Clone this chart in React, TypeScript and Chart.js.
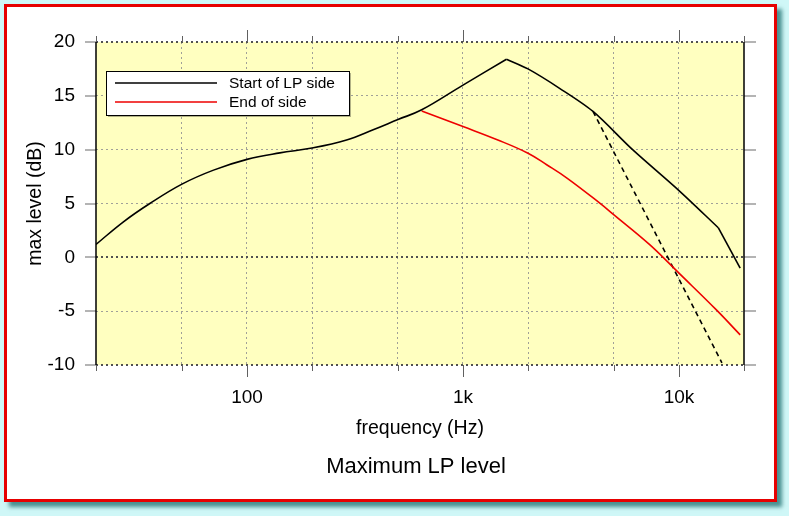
import React, { useEffect, useRef } from 'react';
import { Chart, registerables } from 'chart.js';

Chart.register(...registerables);

const FONT = '"Liberation Sans", Arial, Helvetica, sans-serif';

// ---- axes ----
const X_GRID = [20, 50, 100, 200, 500, 1000, 2000, 5000, 10000, 20000];
const X_DECADES = [100, 1000, 10000];
const X_LABELS: Record<string, string> = { '100': '100', '1000': '1k', '10000': '10k' };
const Y_TICKS = [-10, -5, 0, 5, 10, 15, 20];
const Y_DARK = [-10, 0, 20];

// ---- data ----
// Start of LP side: rising part up to the peak
const startRiseFreq = [20, 26.8, 35.5, 50, 70, 100, 142, 200, 289, 384, 500, 644, 1000, 1590];
const startRiseLevel = [1.2, 3.3, 5.0, 6.8, 8.1, 9.1, 9.7, 10.15, 10.9, 11.85, 12.8, 13.7, 16.0, 18.4];
// Start of LP side: falling part after the peak
const startFallFreq = [1590, 2000, 2800, 4000, 6100, 10000, 15200];
const startFallLevel = [18.4, 17.5, 15.7, 13.55, 10.0, 6.2, 2.75];
// Start of LP side: last steep stretch
const startTailFreq = [15200, 19200];
const startTailLevel = [2.75, -1.0];

const endFreq = [644, 1000, 1450, 2000, 2440, 3030, 4300, 5000, 7340, 10000, 14900, 19200];
const endLevel = [13.6, 12.15, 10.9, 9.67, 8.6, 7.36, 5.03, 3.95, 1.16, -1.47, -4.88, -7.2];

const dashFreq = [4000, 15800];
const dashLevel = [13.55, -9.8];

const LEGEND_LABELS = ['Start of LP side', 'End of side'];
const LEGEND_COLORS = ['#000000', '#ee0000'];

const TITLE = 'Maximum LP level';

const PLOT_BG = '#ffffc0';
const GRID = '#a0a098';
const GRID_DARK = '#505050';

const pts = (f: number[], v: number[]) => f.map((x, i) => ({ x, y: v[i] }));

const decorPlugin = {
  id: 'decor',
  beforeDraw(chart: any) {
    const { ctx, chartArea: a } = chart;
    ctx.save();
    ctx.fillStyle = PLOT_BG;
    ctx.fillRect(a.left, a.top, a.right - a.left, a.bottom - a.top);
    ctx.restore();
  },
  afterDatasetsDraw(chart: any) {
    const { ctx, chartArea: a } = chart;
    const xs = chart.scales.x;
    const ys = chart.scales.y;
    ctx.save();
    // y ticks (left & right)
    ctx.strokeStyle = '#b4b4b4';
    ctx.lineWidth = 2;
    for (const v of Y_TICKS) {
      const y = Math.round(ys.getPixelForValue(v));
      ctx.beginPath();
      ctx.moveTo(a.left - 11, y);
      ctx.lineTo(a.left, y);
      ctx.moveTo(a.right, y);
      ctx.lineTo(a.right + 12, y);
      ctx.stroke();
    }
    // x ticks (top & bottom)
    ctx.strokeStyle = '#606060';
    ctx.lineWidth = 1;
    for (const v of X_GRID) {
      const x = Math.round(xs.getPixelForValue(v)) + 0.5;
      const len = X_DECADES.includes(v) ? 12 : 6;
      ctx.beginPath();
      ctx.moveTo(x, a.top - len);
      ctx.lineTo(x, a.top);
      ctx.moveTo(x, a.bottom);
      ctx.lineTo(x, a.bottom + len);
      ctx.stroke();
    }
    // left / right edges
    ctx.strokeStyle = '#000';
    ctx.lineWidth = 1.5;
    ctx.beginPath();
    ctx.moveTo(a.left, a.top);
    ctx.lineTo(a.left, a.bottom);
    ctx.moveTo(a.right, a.top);
    ctx.lineTo(a.right, a.bottom);
    ctx.stroke();

    // legend
    const bx = a.left + 10;
    const by = a.top + 29;
    const bw = 243;
    const bh = 44;
    ctx.fillStyle = 'rgba(0,0,0,0.3)';
    ctx.fillRect(bx + 2, by + 2, bw, bh);
    ctx.fillStyle = '#fff';
    ctx.fillRect(bx, by, bw, bh);
    ctx.strokeStyle = '#000';
    ctx.lineWidth = 1;
    ctx.strokeRect(bx + 0.5, by + 0.5, bw, bh);
    ctx.font = `15.5px ${FONT}`;
    ctx.textBaseline = 'middle';
    ctx.textAlign = 'left';
    LEGEND_LABELS.forEach((lab, i) => {
      const cy = by + 12 + i * 19;
      ctx.strokeStyle = LEGEND_COLORS[i];
      ctx.lineWidth = 1.5;
      ctx.beginPath();
      ctx.moveTo(bx + 9, cy);
      ctx.lineTo(bx + 111, cy);
      ctx.stroke();
      ctx.fillStyle = '#000';
      ctx.fillText(lab, bx + 123, cy + 1);
    });
    ctx.restore();
  },
  afterDraw(chart: any) {
    const { ctx, chartArea: a } = chart;
    ctx.save();
    ctx.font = `22px ${FONT}`;
    ctx.fillStyle = '#000';
    ctx.textAlign = 'center';
    ctx.textBaseline = 'middle';
    ctx.fillText(TITLE, (a.left + a.right) / 2 - 4, a.bottom + 102);
    ctx.restore();
  },
};

export default function App() {
  const ref = useRef<HTMLCanvasElement>(null);
  useEffect(() => {
    const canvas = ref.current;
    if (!canvas) return;
    const lineBase = { pointRadius: 0, borderWidth: 1.6 };
    const chart = new Chart(canvas, {
      type: 'line',
      data: {
        datasets: [
          {
            ...lineBase,
            label: LEGEND_LABELS[0],
            data: pts(startRiseFreq, startRiseLevel),
            borderColor: LEGEND_COLORS[0],
            tension: 0.4,
          },
          {
            ...lineBase,
            label: LEGEND_LABELS[0] + ' (falling)',
            data: pts(startFallFreq, startFallLevel),
            borderColor: LEGEND_COLORS[0],
            tension: 0.3,
          },
          {
            ...lineBase,
            label: LEGEND_LABELS[0] + ' (tail)',
            data: pts(startTailFreq, startTailLevel),
            borderColor: LEGEND_COLORS[0],
            tension: 0,
          },
          {
            ...lineBase,
            label: LEGEND_LABELS[1],
            data: pts(endFreq, endLevel),
            borderColor: LEGEND_COLORS[1],
            tension: 0.4,
          },
          {
            ...lineBase,
            label: 'cut',
            data: pts(dashFreq, dashLevel),
            borderColor: '#000',
            borderDash: [5, 4],
            tension: 0,
          },
        ],
      },
      options: {
        responsive: false,
        animation: false,
        devicePixelRatio: 1,
        layout: { padding: { left: 0, top: 42, right: 45, bottom: 0 } },
        plugins: {
          legend: { display: false },
          tooltip: { enabled: false },
          title: { display: false },
        },
        scales: {
          x: {
            type: 'logarithmic',
            min: 20,
            max: 20000,
            position: 'bottom',
            afterBuildTicks: (s: any) => {
              s.ticks = X_GRID.map((v) => ({ value: v }));
            },
            afterFit: (s: any) => {
              s.height = 151;
            },
            ticks: {
              autoSkip: false,
              maxRotation: 0,
              minRotation: 0,
              padding: 21,
              color: '#000',
              font: { family: FONT, size: 19 },
              callback: (v: any) => X_LABELS[String(v)] ?? '',
            },
            grid: {
              drawTicks: false,
              color: (c: any) =>
                c.tick && (c.tick.value === 20 || c.tick.value === 20000) ? 'rgba(0,0,0,0)' : GRID,
              lineWidth: 1,
            },
            border: { display: false, dash: [2, 3] },
            title: {
              display: true,
              text: 'frequency (Hz)',
              color: '#000',
              font: { family: FONT, size: 19.5 },
              padding: { top: 0, bottom: 75.6 },
            },
          },
          y: {
            type: 'linear',
            min: -10,
            max: 20,
            position: 'left',
            afterBuildTicks: (s: any) => {
              s.ticks = Y_TICKS.map((v) => ({ value: v }));
            },
            afterFit: (s: any) => {
              s.width = 96;
            },
            ticks: {
              padding: 21,
              color: '#000',
              font: { family: FONT, size: 19 },
              callback: (v: any) => String(v),
            },
            grid: {
              drawTicks: false,
              color: (c: any) => (c.tick && Y_DARK.includes(c.tick.value) ? GRID_DARK : GRID),
              lineWidth: (c: any) => (c.tick && Y_DARK.includes(c.tick.value) ? 2 : 1),
            },
            border: { display: false, dash: [2, 3] },
            title: {
              display: true,
              text: 'max level (dB)',
              color: '#000',
              font: { family: FONT, size: 19.5 },
              padding: { top: 24.3, bottom: 0 },
            },
          },
        },
      } as any,
      plugins: [decorPlugin],
    });
    return () => chart.destroy();
  }, []);

  return (
    <div
      style={{
        position: 'fixed',
        left: 0,
        top: 0,
        width: 789,
        height: 516,
        background: '#cff7f7',
        overflow: 'hidden',
      }}
    >
      <div
        style={{
          position: 'absolute',
          left: 4,
          top: 4,
          width: 773,
          height: 498,
          boxSizing: 'border-box',
          border: '3px solid #e60000',
          background: '#ffffff',
          boxShadow: '5px 5px 4px rgba(30,110,110,0.75)',
        }}
      />
      <canvas
        ref={ref}
        width={789}
        height={516}
        style={{ position: 'absolute', left: 0, top: 0, width: 789, height: 516 }}
      />
    </div>
  );
}
